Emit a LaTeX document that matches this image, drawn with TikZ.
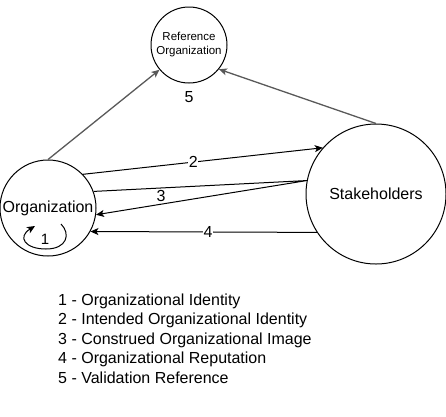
\documentclass[tikz,border=0pt]{standalone}
\usepackage{fontspec}
\setmainfont{Liberation Sans}
\usetikzlibrary{arrows.meta}
\tikzset{
    party/.style={draw, circle, inner sep=0pt, line width=1pt},
    flow/.style={-{Stealth[length=8pt,width=7pt,inset=2pt]}, line width=1pt},
    tag/.style={fill=white, inner sep=0.5pt, font=\fontsize{16}{19}\selectfont}
}
\begin{document}
\begin{tikzpicture}[x=1pt, y=-1pt]
    \useasboundingbox (0,0) rectangle (446,416);
    \node[party, minimum size=76pt, align=center, font=\fontsize{11.5}{14}\selectfont] (ref) at (189,45) {Reference\\Organization};
    \node[party, minimum size=96pt, font=\fontsize{16}{19}\selectfont] (org) at (48,208) {Organization};
    \node[party, minimum size=140pt, font=\fontsize{16}{19}\selectfont] (stake) at (376,194) {Stakeholders};
    \node[font=\fontsize{16}{19}\selectfont] (five) at (189,97) {5};
    % validation reference
    \draw[flow, draw=black!65, line width=1.3pt] (org.north) -- (ref.220.6);
    \draw[flow, draw=black!65, line width=1.3pt] (stake.north) -- (ref.321.3);
    % intended identity, construed image, reputation
    \draw[flow] (org.44) -- node[tag, pos=0.46] {2} (stake.139.4);
    \draw[flow] (org.20) -- (stake.169.6) coordinate (turn) -- (org.-8.3);
    \node[tag] (three) at (161,196) {3};
    \draw[flow] (stake.213.7) -- node[tag, pos=0.48] {4} (org.-29.2);
    % identity loop
    \coordinate (loopa) at (61,224);
    \coordinate (loopb) at (35,226);
    \draw[flow] (loopa) .. controls (71,234) and (67,249) .. (46,249)
        .. controls (25,249) and (17,237) .. (loopb);
    \node[font=\fontsize{15}{18}\selectfont] (one) at (45,239) {1};
    % legend
    \node[anchor=north west, inner sep=0pt, align=left, font=\fontsize{16}{19.5}\selectfont] (legend) at (58,293.5)
        {1 - Organizational Identity\\
         2 - Intended Organizational Identity\\
         3 - Construed Organizational Image\\
         4 - Organizational Reputation\\
         5 - Validation Reference};
\end{tikzpicture}
\end{document}
